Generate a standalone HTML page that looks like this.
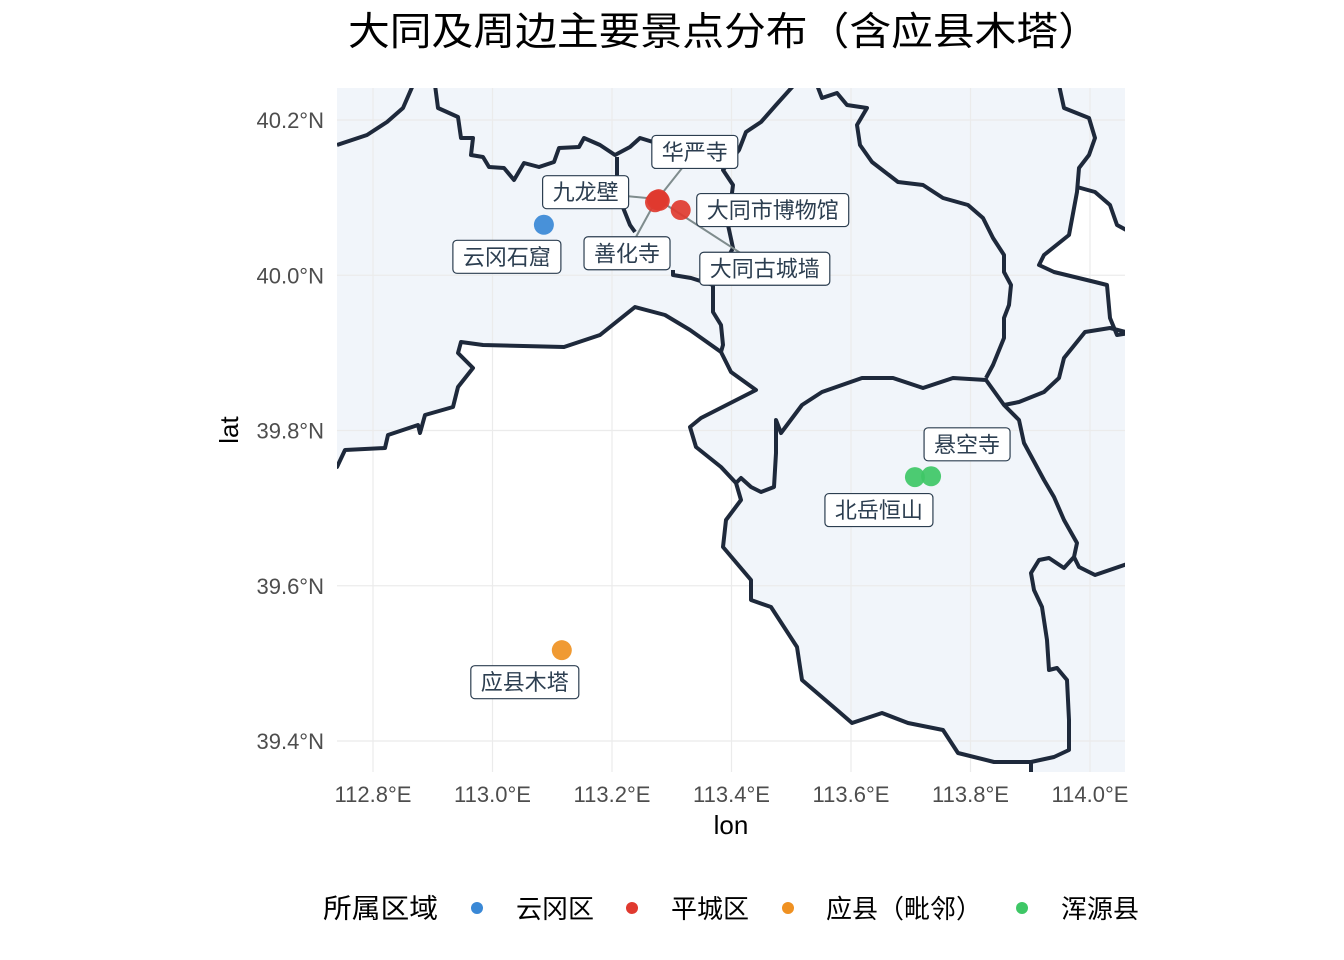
<!DOCTYPE html>
<html><head><meta charset="utf-8"><style>
html,body{margin:0;padding:0;background:#fff;}
svg{display:block;font-family:"Liberation Sans","Noto Sans CJK SC",sans-serif;}
</style></head><body>
<svg id="chart" width="1344" height="960" viewBox="0 0 1344 960">
<defs><clipPath id="pc"><rect x="337" y="88" width="788" height="684"/></clipPath></defs>
<text x="348" y="45" font-size="39" fill="#000" textLength="752" lengthAdjust="spacingAndGlyphs">大同及周边主要景点分布（含应县木塔）</text>
<g clip-path="url(#pc)">
<rect x="337" y="88" width="788" height="684" fill="#f1f5fa"/>
<path fill="#fff" d="M330,467 L337,467 345,450 385,448 388,435 418,425 420,433 425,415 453,407 458,387 473,368 458,353 461,342 483,345 564,347 600,335 635,307 665,315 690,330 721,352 731,372 756,390 701,418 690,427 696,447 721,467 736,483 741,500 726,520 723,547 751,580 751,600 771,607 797,647 802,680 837,710 852,723 882,713 908,723 943,730 958,753 994,762 1031,762 1031,780 330,780 Z"/>
<path fill="#fff" d="M1077,187 1095,192 1110,205 1117,225 1130,232 1130,333 1117,335 1110,318 1107,285 1095,282 1054,272 1039,265 1044,255 1069,235 1077,192 Z"/>
<g id="grid"></g>
<g fill="none" stroke="#1e293b" stroke-width="4" stroke-linejoin="round">
<path d="M330,467 L337,467 345,450 385,448 388,435 418,425 420,433 425,415 453,407 458,387 473,368 458,353 461,342 483,345 564,347 600,335 635,307 665,315 690,330 721,352 731,372 756,390 701,418 690,427 696,447 721,467 736,483 741,500 726,520 723,547 751,580 751,600 771,607 797,647 802,680 837,710 852,723 882,713 908,723 943,730 958,753 994,762 1031,762 1031,780"/>
<path d="M337,145 367,135 387,122 403,108 413,85"/>
<path d="M435,85 438,108 458,117 461,138 473,138 471,155 483,157 489,167 504,168 514,180 524,163 539,167 554,162 559,148 579,147 584,138 600,145 615,155 630,147 640,138 653,142"/>
<path d="M617,157 617,178 622,205 630,225 635,232"/>
<path d="M673,270 673,275 691,278 713,285 713,312 721,325 723,345 721,352"/>
<path d="M794,85 776,105 761,122 746,132 739,150 723,170 733,185 728,225 733,248 713,285"/>
<path d="M817,85 822,98 837,93 847,105 867,108 857,125 860,145 872,162 898,182 923,185 943,198 968,205 983,218 993,238 1004,255 1004,272 1011,285 1009,305 1004,318 1004,338 993,365 986,378"/>
<path d="M736,483 741,478 751,487 761,492 774,487 776,453 776,420 781,433 802,405 822,392 862,378 893,378 923,388 953,378 986,380 1004,405 1019,420 1024,443 1044,480 1054,497 1064,520 1077,543 1074,557 1064,568 1049,558 1039,560 1031,573 1034,590 1042,607 1047,640 1049,670 1057,668 1067,680 1069,720 1069,750 1054,757 1031,762"/>
<path d="M1074,557 1079,567 1095,575 1130,563"/>
<path d="M1004,405 1019,402 1044,392 1059,378 1064,358 1085,332 1110,328 1130,333"/>
<path d="M1059,85 1064,108 1089,118 1095,138 1089,155 1079,168 1077,192 1069,235 1044,255 1039,265 1054,272 1095,282 1107,285 1110,318 1117,335 1130,333"/>
<path d="M1077,187 1095,192 1110,205 1117,225 1130,232"/>
</g>
<g id="leaders"></g>
<g id="points"></g>
<g id="labels"></g>
</g>
<g id="axes"></g>
<text x="731" y="834" text-anchor="middle" font-size="26" fill="#000">lon</text>
<text x="238" y="430" text-anchor="middle" font-size="26" fill="#000" transform="rotate(-90 238 430)">lat</text>
<g id="legend"></g>
</svg>
<script>
const NS='http://www.w3.org/2000/svg';
const lonTicks=[112.8,113.0,113.2,113.4,113.6,113.8,114.0];
const lonTickLabels=['112.8°E','113.0°E','113.2°E','113.4°E','113.6°E','113.8°E','114.0°E'];
const latTicks=[40.2,40.0,39.8,39.6,39.4];
const latTickLabels=['40.2°N','40.0°N','39.8°N','39.6°N','39.4°N'];
const siteNames=['云冈石窟','九龙壁','华严寺','善化寺','大同古城墙','大同市博物馆','应县木塔','北岳恒山','悬空寺'];
const siteLon=[113.086,113.278,113.275,113.272,113.280,113.315,113.116,113.707,113.734];
const siteLat=[40.065,40.098,40.097,40.094,40.096,40.084,39.517,39.740,39.741];
const siteRegion=[0,1,1,1,1,1,2,3,3];
const regionNames=['云冈区','平城区','应县（毗邻）','浑源县'];
const regionColors=['#3a88d6','#e0392f','#ef9122','#3ec766'];
const labelOffset=[[-37,32],[-73,-7],[38,-48],[-28,51],[105,68],[92,0],[-37,32],[-36,33],[36,-32]];
const leader=[false,true,true,true,true,false,false,false,false];

const X=lon=>373+(lon-112.8)*597.5;
const Y=lat=>120+(40.2-lat)*776.25;
function mk(tag,attrs,parent){const e=document.createElementNS(NS,tag);for(const k in attrs)e.setAttribute(k,attrs[k]);parent.appendChild(e);return e;}

const grid=document.getElementById('grid'),axes=document.getElementById('axes');
lonTicks.forEach((v,i)=>{
  const l=mk('line',{x1:X(v),x2:X(v),y1:88,y2:772,stroke:'#ebebeb','stroke-width':1.2},grid);
  
  
  const t=mk('text',{x:X(v),y:802,'text-anchor':'middle','font-size':22,fill:'#4d4d4d'},axes);
  t.textContent=lonTickLabels[i];
  
  
});
latTicks.forEach((v,i)=>{
  const l=mk('line',{x1:337,x2:1125,y1:Y(v),y2:Y(v),stroke:'#ebebeb','stroke-width':1.2},grid);
  
  
  const t=mk('text',{x:324,y:Y(v)+8,'text-anchor':'end','font-size':22,fill:'#4d4d4d'},axes);
  t.textContent=latTickLabels[i];
  
  
});

const pts=document.getElementById('points'),labs=document.getElementById('labels'),lead=document.getElementById('leaders');
siteNames.forEach((n,i)=>{
  const px=X(siteLon[i]),py=Y(siteLat[i]);
  const c=mk('circle',{cx:px,cy:py,r:10,fill:regionColors[siteRegion[i]],'fill-opacity':0.92},pts);
  
  
  const cx=px+labelOffset[i][0],cy=py+labelOffset[i][1];
  const w=n.length*22+20,h=33;
  if(leader[i]){
    const ln=mk('line',{x1:px,y1:py,x2:cx,y2:cy,stroke:'#7f8c8d','stroke-width':2},lead);
    
    
  }
  const r=mk('rect',{x:cx-w/2,y:cy-h/2,width:w,height:h,rx:4,fill:'#fff',stroke:'#2c3e50','stroke-width':1.2},labs);
  
  
  const t=mk('text',{x:cx,y:cy+8,'text-anchor':'middle','font-size':22,fill:'#2c3e50'},labs);
  t.textContent=n;
  
  
});

const lg=document.getElementById('legend');
const lt=mk('text',{x:323,y:918,'font-size':27,fill:'#000',textLength:115,lengthAdjust:'spacingAndGlyphs'},lg);
lt.textContent='所属区域';


const legDot=[477,632,788,1022],legText=[516,671,826,1061];
regionNames.forEach((n,i)=>{
  const c=mk('circle',{cx:legDot[i],cy:908,r:6,fill:regionColors[i]},lg);
  
  
  const t=mk('text',{x:legText[i],y:918,'font-size':26,fill:'#000'},lg);
  t.textContent=n;
  
  
});
</script>
</body></html>
